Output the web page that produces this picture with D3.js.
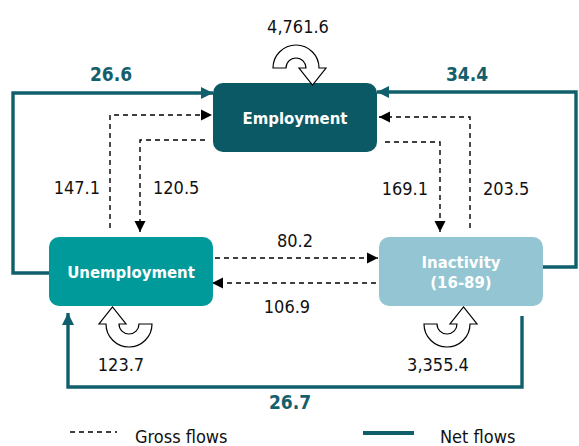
<!DOCTYPE html>
<html>
<head>
<meta charset="utf-8">
<script src="https://cdn.jsdelivr.net/npm/d3@7"></script>
<style>
  html, body { margin: 0; padding: 0; background: #fff; }
  svg { display: block; }
  text { font-family: "DejaVu Sans Condensed", Tahoma, "Liberation Sans", sans-serif; }
</style>
</head>
<body>
<svg id="chart" width="579" height="446"></svg>
<script>
// ---- data ----
const states = ["Employment", "Unemployment", "Inactivity"];
const stateLabels = [["Employment"], ["Unemployment"], ["Inactivity", "(16-89)"]];
const stayValues = [4761.6, 123.7, 3355.4];
const grossFrom = ["Unemployment", "Employment", "Employment", "Inactivity", "Unemployment", "Inactivity"];
const grossTo   = ["Employment", "Unemployment", "Inactivity", "Employment", "Inactivity", "Unemployment"];
const grossValues = [147.1, 120.5, 169.1, 203.5, 80.2, 106.9];
const netFrom = ["Unemployment", "Inactivity", "Inactivity"];
const netTo   = ["Employment", "Employment", "Unemployment"];
const netValues = [26.6, 34.4, 26.7];
const legendLabels = ["Gross flows", "Net flows"];

// ---- styles / layout ----
const fmt = d3.format(",.1f");
const boxFill = d3.scaleOrdinal().domain(states).range(["#0b5964", "#009a9a", "#93c6d2"]);
const netColor = "#0f5f6c";
const labelColor = "#155f6d";
const numSize = 18;

const svg = d3.select("#chart");
const boxW = 164, boxH = 69;
const boxes = {
  Employment:   {x: 213, y: 83},
  Unemployment: {x: 49,  y: 237},
  Inactivity:   {x: 379, y: 237}
};

const defs = svg.append("defs");
defs.append("marker").attr("id", "arrBlack")
  .attr("viewBox", "0 0 10 10").attr("refX", 10).attr("refY", 5)
  .attr("markerWidth", 11).attr("markerHeight", 12).attr("markerUnits", "userSpaceOnUse")
  .attr("orient", "auto")
  .append("path").attr("d", "M0,0 L10,5 L0,10 Z").attr("fill", "#000");
defs.append("marker").attr("id", "arrTeal")
  .attr("viewBox", "0 0 10 10").attr("refX", 10).attr("refY", 5)
  .attr("markerWidth", 12).attr("markerHeight", 13).attr("markerUnits", "userSpaceOnUse")
  .attr("orient", "auto")
  .append("path").attr("d", "M0,0 L10,5 L0,10 Z").attr("fill", netColor);

// ---- net flow paths ----
const netPaths = {
  "Unemployment>Employment": [[49, 273], [13, 273], [13, 93], [213, 93]],
  "Inactivity>Employment":   [[543, 267], [576, 267], [576, 92], [377, 92]],
  "Inactivity>Unemployment": [[522, 316], [522, 387], [68, 387], [68, 313]]
};
const netLabelPos = [[111, 81], [467, 81], [290, 409]];
const line = d3.line();

netValues.forEach((v, i) => {
  const pts = netPaths[netFrom[i] + ">" + netTo[i]];
  svg.append("path").attr("d", line(pts))
    .attr("fill", "none").attr("stroke", netColor).attr("stroke-width", 3.4)
    .attr("stroke-linejoin", "miter")
    .attr("marker-end", "url(#arrTeal)");
  svg.append("text").attr("x", netLabelPos[i][0]).attr("y", netLabelPos[i][1])
    .attr("text-anchor", "middle").attr("font-size", 19).attr("font-weight", "bold")
    .attr("fill", labelColor).text(fmt(v));
});

// ---- gross flow paths ----
const grossPaths = {
  "Unemployment>Employment": [[110, 228], [110, 115], [212, 115]],
  "Employment>Unemployment": [[205, 140], [140, 140], [140, 232]],
  "Employment>Inactivity":   [[385, 142], [440, 142], [440, 232]],
  "Inactivity>Employment":   [[470, 228], [470, 117], [379, 117]],
  "Unemployment>Inactivity": [[215, 258], [378, 258]],
  "Inactivity>Unemployment": [[376, 283], [212, 283]]
};
const grossLabel = [
  {x: 100, y: 194, a: "end"},
  {x: 153, y: 194, a: "start"},
  {x: 428, y: 195, a: "end"},
  {x: 483, y: 195, a: "start"},
  {x: 295, y: 247, a: "middle"},
  {x: 287, y: 313, a: "middle"}
];
grossValues.forEach((v, i) => {
  const pts = grossPaths[grossFrom[i] + ">" + grossTo[i]];
  svg.append("path").attr("d", line(pts))
    .attr("fill", "none").attr("stroke", "#000").attr("stroke-width", 1.4)
    .attr("stroke-dasharray", "5,4")
    .attr("marker-end", "url(#arrBlack)");
  svg.append("text").attr("x", grossLabel[i].x).attr("y", grossLabel[i].y)
    .attr("text-anchor", grossLabel[i].a).attr("font-size", numSize)
    .attr("fill", "#111").text(fmt(v));
});

// ---- boxes ----
states.forEach((s, i) => {
  const b = boxes[s];
  svg.append("rect").attr("x", b.x).attr("y", b.y).attr("width", boxW).attr("height", boxH)
    .attr("rx", 10).attr("ry", 10).attr("fill", boxFill(s));
  const lines = stateLabels[i];
  const cy = b.y + boxH / 2;
  lines.forEach((t, k) => {
    svg.append("text").attr("x", b.x + boxW / 2)
      .attr("y", cy + 6 + (k - (lines.length - 1) / 2) * 20)
      .attr("text-anchor", "middle").attr("font-size", 16.6).attr("font-weight", "bold")
      .attr("fill", "#fff").text(t);
  });
});

// ---- self loops (curved arrows) ----
function loopPath(R, r, h, L) {
  const m = (R + r) / 2;
  return `M${-R},0 A${R},${R} 0 0 1 ${R},0 L${R + h},0 L${m},${L} L${r - h},0 L${r},0 A${r},${r} 0 0 0 ${-r},0 Z`;
}
const loops = [
  {cx: 296, cy: 68, t: "", lx: 298, ly: 33},
  {cx: 129, cy: 324, t: "rotate(180)", lx: 121, ly: 371},
  {cx: 447, cy: 324, t: "scale(1,-1)", lx: 438, ly: 371}
];
stayValues.forEach((v, i) => {
  const L0 = loops[i];
  svg.append("path").attr("d", loopPath(23, 10, 7, 17))
    .attr("transform", `translate(${L0.cx},${L0.cy}) ${L0.t}`)
    .attr("fill", "#fff").attr("stroke", "#000").attr("stroke-width", 1.2)
    .attr("stroke-linejoin", "miter");
  svg.append("text").attr("x", L0.lx).attr("y", L0.ly).attr("text-anchor", "middle")
    .attr("font-size", numSize).attr("fill", "#111").text(fmt(v));
});

// ---- legend ----
const lg = svg.append("g");
lg.append("line").attr("x1", 70).attr("x2", 117).attr("y1", 432).attr("y2", 432)
  .attr("stroke", "#000").attr("stroke-width", 1.4).attr("stroke-dasharray", "5,4");
lg.append("text").attr("x", 135).attr("y", 443).attr("font-size", numSize).attr("fill", "#111").text(legendLabels[0]);
lg.append("line").attr("x1", 363).attr("x2", 414).attr("y1", 433).attr("y2", 433)
  .attr("stroke", netColor).attr("stroke-width", 4);
lg.append("text").attr("x", 440).attr("y", 443).attr("font-size", numSize).attr("fill", "#111").text(legendLabels[1]);
</script>
</body>
</html>
